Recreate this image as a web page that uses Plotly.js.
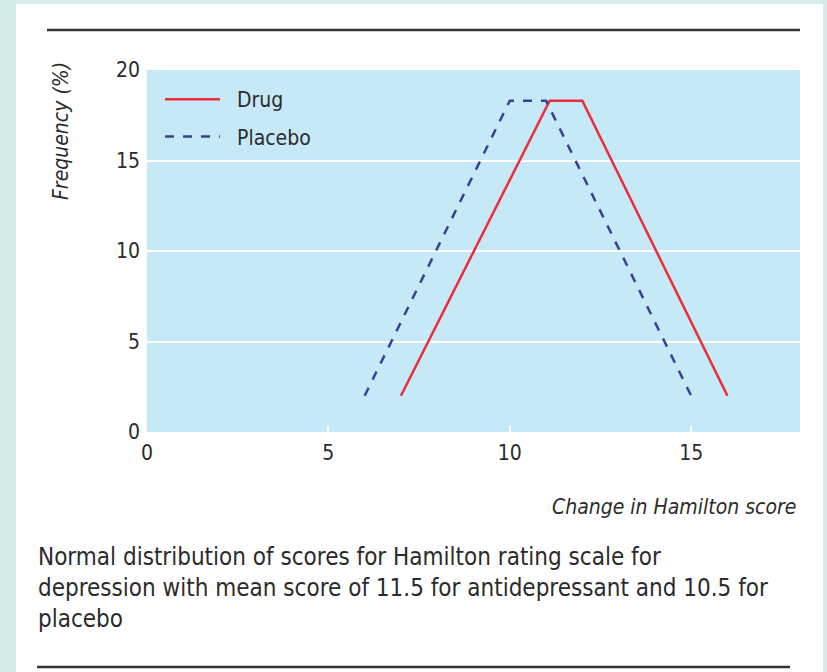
<!DOCTYPE html>
<html>
<head>
<meta charset="utf-8">
<script src="https://cdn.plot.ly/plotly-3.0.1.min.js"></script>
<style>
html,body{margin:0;padding:0;width:827px;height:672px;overflow:hidden;background:#d6ede9;}
#panel{position:absolute;left:16px;top:4px;width:807px;height:668px;background:#ffffff;}
#chart{position:absolute;left:0;top:0;width:827px;height:672px;}
</style>
</head>
<body>
<div id="panel"></div>
<div id="chart"></div>
<script>
// Data
var drugX = [7, 11.1, 12, 16];
var drugY = [2, 18.3, 18.3, 2];
var placeboX = [6, 10, 11, 15];
var placeboY = [2, 18.3, 18.3, 2];
var xTickVals = [0, 5, 10, 15];
var yTickVals = [0, 5, 10, 15, 20];
var seriesNames = ["Drug", "Placebo"];
var xTitle = "Change in Hamilton score";
var yTitle = "Frequency (%)";
var caption = "Normal distribution of scores for Hamilton rating scale for<br>depression with mean score of 11.5 for antidepressant and 10.5 for<br>placebo";

var FONT = "Liberation Sans Narrow, DejaVu Sans Condensed, Arial Narrow, sans-serif";
var TXT = "#2b2b2b";
var PAD = "\u00a0\u00a0";

var traces = [
  {x: drugX, y: drugY, name: PAD + seriesNames[0], type: "scatter", mode: "lines",
   line: {color: "#ee2b3b", width: 2.5}, legendgroup: "a"},
  {x: placeboX, y: placeboY, name: PAD + seriesNames[1], type: "scatter", mode: "lines",
   line: {color: "#3b3f92", width: 2.5, dash: "dash"}, legendgroup: "b"}
];

// paper coordinate helpers (plot area: x 147..800, y 70..432)
function px(v){ return (v - 147) / 653; }
function py(v){ return (432 - v) / 362; }

var layout = {
  width: 827, height: 672,
  margin: {l: 147, r: 27, t: 70, b: 240},
  paper_bgcolor: "rgba(0,0,0,0)",
  plot_bgcolor: "#c6e9f8",
  font: {family: FONT, color: TXT, size: 21},
  showlegend: true,
  legend: {x: px(160), y: py(79), xanchor: "left", yanchor: "top",
           bgcolor: "rgba(0,0,0,0)", font: {family: FONT, size: 21, color: TXT},
           itemwidth: 55, tracegroupgap: 7, traceorder: "grouped"},
  xaxis: {range: [0, 18], tickvals: xTickVals, ticks: "inside", ticklen: 6,
          tickcolor: "#ffffff", tickwidth: 2, showgrid: false, zeroline: false,
          showline: false, ticklabelstandoff: 6,
          tickfont: {family: FONT, size: 21, color: TXT}, fixedrange: true},
  yaxis: {range: [0, 20], tickvals: yTickVals, ticks: "", showgrid: true,
          gridcolor: "#ffffff", gridwidth: 2, zeroline: false, showline: false,
          ticklabelstandoff: 6,
          tickfont: {family: FONT, size: 21, color: TXT}, fixedrange: true},
  shapes: [
    {type: "line", xref: "paper", yref: "paper", x0: px(47), x1: px(800), y0: py(30), y1: py(30),
     line: {color: "#333333", width: 2.5}},
    {type: "line", xref: "paper", yref: "paper", x0: px(37), x1: px(790), y0: py(667), y1: py(667),
     line: {color: "#333333", width: 2.5}}
  ],
  annotations: [
    {text: "<i>" + xTitle + "</i>", xref: "paper", yref: "paper", x: px(798), y: py(507),
     xanchor: "right", yanchor: "middle", showarrow: false,
     font: {family: FONT, size: 21, color: TXT}},
    {text: "<i>" + yTitle + "</i>", xref: "paper", yref: "paper", x: px(61), y: py(60),
     xanchor: "center", yanchor: "top", textangle: -90, showarrow: false,
     font: {family: FONT, size: 21, color: TXT}},
    {text: caption, xref: "paper", yref: "paper", x: px(36), y: py(541),
     xanchor: "left", yanchor: "top", align: "left", showarrow: false,
     font: {family: FONT, size: 24, color: TXT}}
  ]
};

Plotly.newPlot("chart", traces, layout, {displayModeBar: false, staticPlot: true});
</script>
</body>
</html>
